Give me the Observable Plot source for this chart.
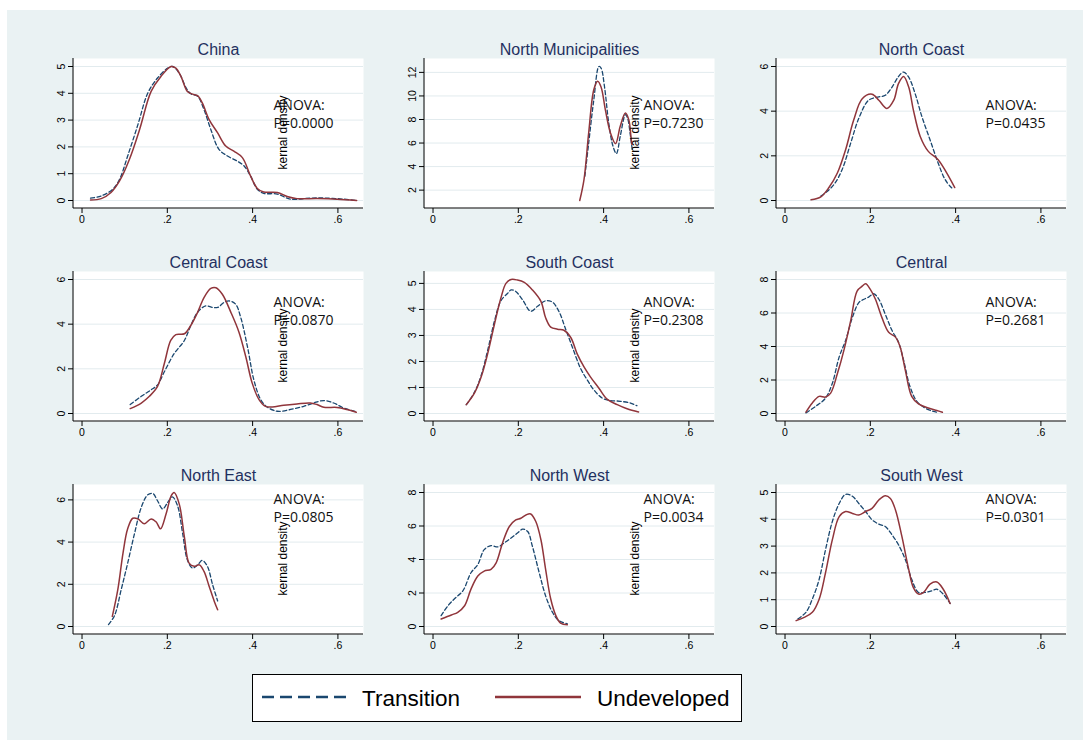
<!DOCTYPE html>
<html><head><meta charset="utf-8">
<script src="https://cdn.jsdelivr.net/npm/d3@7"></script>
<script src="https://cdn.jsdelivr.net/npm/@observablehq/plot@0.6"></script>
<style>
html,body{margin:0;padding:0;background:#fff;width:1083px;height:740px;overflow:hidden;font-family:"Liberation Sans",Arial,sans-serif}
#bg{position:absolute;left:7px;top:10px;width:1076px;height:730px;background:#EAF2F3}
.panel{position:absolute}
#legend{position:absolute;left:252px;top:674px;width:488px;height:46px;background:#fff;border:1px solid #000}
</style></head><body>
<div id="bg"></div>
<div id="charts"></div>
<div id="legend"></div>
<script>
// ---------- DATA ----------
const regions = ["China", "North Municipalities", "North Coast", "Central Coast", "South Coast", "Central", "North East", "North West", "South West"];
const anovaP = ["0.0000", "0.7230", "0.0435", "0.0870", "0.2308", "0.2681", "0.0805", "0.0034", "0.0301"];
const seriesNames = ["Transition", "Undeveloped"];
const xTicks = [0, 0.2, 0.4, 0.6];
const yTicks = [[0,1,2,3,4,5],[2,4,6,8,10,12],[0,2,4,6],[0,2,4,6],[0,1,2,3,4,5],[0,2,4,6,8],[0,2,4,6],[0,2,4,6,8],[0,1,2,3,4,5]];

const chinaTransition = [[0.02,0.09],[0.045,0.17],[0.072,0.42],[0.088,0.79],[0.107,1.66],[0.131,2.83],[0.154,4.0],[0.177,4.57],[0.201,4.94],[0.212,5.0],[0.228,4.75],[0.244,4.2],[0.255,3.98],[0.271,3.89],[0.286,3.39],[0.302,2.65],[0.321,1.91],[0.341,1.66],[0.364,1.47],[0.38,1.29],[0.395,0.92],[0.411,0.42],[0.426,0.27],[0.458,0.24],[0.489,0.05],[0.535,0.09],[0.574,0.09],[0.613,0.05],[0.644,0.0]];
const chinaUndeveloped = [[0.02,0.02],[0.045,0.07],[0.068,0.3],[0.088,0.73],[0.111,1.53],[0.135,2.65],[0.162,4.07],[0.185,4.63],[0.209,5.0],[0.22,4.94],[0.232,4.63],[0.247,4.07],[0.259,3.97],[0.271,3.91],[0.282,3.64],[0.298,3.02],[0.318,2.52],[0.337,2.03],[0.356,1.84],[0.376,1.6],[0.395,0.92],[0.411,0.45],[0.426,0.32],[0.458,0.30],[0.481,0.15],[0.504,0.07],[0.551,0.07],[0.598,0.05],[0.644,0.0]];

const northMuniTransition = [[0.356,3.19],[0.365,6.0],[0.377,9.68],[0.389,12.5],[0.394,12.37],[0.402,10.8],[0.412,7.7],[0.422,5.73],[0.43,5.1],[0.439,6.58],[0.451,8.41],[0.456,8.13],[0.463,6.58],[0.467,5.45]];
const northMuniUndeveloped = [[0.344,1.12],[0.354,2.9],[0.365,6.86],[0.377,10.53],[0.386,11.24],[0.394,10.76],[0.404,8.84],[0.416,6.86],[0.428,5.95],[0.439,7.42],[0.451,8.55],[0.459,7.99],[0.464,6.58],[0.466,5.9]];

const northCoastTransition = [[0.084,0.2],[0.095,0.35],[0.115,0.72],[0.134,1.39],[0.154,2.57],[0.173,3.68],[0.196,4.49],[0.22,4.64],[0.235,4.71],[0.251,5.08],[0.266,5.55],[0.278,5.75],[0.29,5.52],[0.305,4.79],[0.321,3.75],[0.34,2.72],[0.359,1.68],[0.375,0.95],[0.39,0.58],[0.394,0.53]];
const northCoastUndeveloped = [[0.061,0.03],[0.084,0.16],[0.103,0.58],[0.123,1.24],[0.142,2.27],[0.161,3.6],[0.181,4.56],[0.204,4.76],[0.22,4.49],[0.239,4.12],[0.255,4.49],[0.266,5.23],[0.278,5.55],[0.29,5.08],[0.301,4.05],[0.317,2.87],[0.336,2.2],[0.359,1.83],[0.379,1.24],[0.398,0.58]];

const centralCoastTransition = [[0.113,0.4],[0.139,0.77],[0.162,1.06],[0.177,1.28],[0.193,1.87],[0.216,2.68],[0.24,3.27],[0.255,3.94],[0.271,4.53],[0.29,4.82],[0.306,4.75],[0.318,4.75],[0.333,4.97],[0.345,5.04],[0.36,4.9],[0.372,4.31],[0.388,2.98],[0.403,1.5],[0.419,0.62],[0.434,0.29],[0.458,0.1],[0.489,0.18],[0.52,0.32],[0.543,0.47],[0.567,0.58],[0.59,0.47],[0.613,0.25],[0.64,0.09]];
const centralCoastUndeveloped = [[0.113,0.22],[0.139,0.47],[0.158,0.77],[0.177,1.21],[0.193,2.24],[0.208,3.27],[0.22,3.53],[0.24,3.57],[0.255,3.94],[0.271,4.53],[0.286,5.19],[0.302,5.6],[0.314,5.63],[0.329,5.34],[0.349,4.53],[0.368,3.64],[0.384,2.54],[0.399,1.36],[0.415,0.62],[0.43,0.32],[0.446,0.29],[0.473,0.37],[0.504,0.43],[0.535,0.47],[0.551,0.4],[0.567,0.28],[0.598,0.27],[0.621,0.18],[0.643,0.06]];

const southCoastTransition = [[0.078,0.34],[0.097,0.81],[0.113,1.47],[0.128,2.42],[0.144,3.55],[0.159,4.33],[0.175,4.62],[0.183,4.75],[0.194,4.69],[0.21,4.37],[0.229,3.93],[0.245,4.12],[0.264,4.33],[0.28,4.28],[0.295,3.93],[0.311,3.24],[0.327,2.54],[0.346,1.73],[0.362,1.28],[0.377,0.91],[0.397,0.59],[0.416,0.5],[0.439,0.47],[0.463,0.4],[0.478,0.3]];
const southCoastUndeveloped = [[0.078,0.34],[0.097,0.78],[0.113,1.41],[0.128,2.29],[0.144,3.43],[0.159,4.43],[0.171,5.0],[0.183,5.15],[0.198,5.13],[0.214,5.04],[0.233,4.75],[0.253,4.31],[0.264,3.68],[0.276,3.32],[0.292,3.24],[0.307,3.2],[0.323,2.92],[0.338,2.29],[0.354,1.79],[0.369,1.41],[0.389,0.97],[0.408,0.55],[0.432,0.34],[0.455,0.18],[0.482,0.06]];

const centralTransition = [[0.049,0.04],[0.072,0.43],[0.095,0.92],[0.111,1.81],[0.127,3.38],[0.142,4.36],[0.158,5.74],[0.173,6.62],[0.185,6.82],[0.196,6.95],[0.208,7.15],[0.22,6.82],[0.235,5.93],[0.251,4.95],[0.266,4.26],[0.278,3.18],[0.293,1.61],[0.309,0.73],[0.328,0.33],[0.348,0.12],[0.359,0.06]];
const centralUndeveloped = [[0.049,0.08],[0.064,0.63],[0.08,1.02],[0.095,0.98],[0.107,1.22],[0.123,2.4],[0.138,3.77],[0.154,5.54],[0.169,7.31],[0.181,7.6],[0.189,7.74],[0.2,7.41],[0.212,6.82],[0.227,5.74],[0.243,4.85],[0.259,4.56],[0.27,3.97],[0.282,2.59],[0.297,1.02],[0.313,0.57],[0.336,0.33],[0.356,0.18],[0.369,0.08]];

const northEastTransition = [[0.062,0.09],[0.076,0.51],[0.092,1.76],[0.107,3.0],[0.123,4.4],[0.139,5.65],[0.154,6.24],[0.166,6.3],[0.177,5.96],[0.189,5.57],[0.201,5.88],[0.212,6.14],[0.224,5.72],[0.236,4.4],[0.247,3.16],[0.259,2.77],[0.271,2.92],[0.282,3.13],[0.294,2.85],[0.306,1.99],[0.318,1.21]];
const northEastUndeveloped = [[0.071,0.48],[0.084,1.76],[0.096,3.47],[0.107,4.63],[0.119,5.13],[0.131,5.1],[0.146,4.87],[0.162,5.1],[0.174,4.95],[0.184,4.63],[0.197,5.33],[0.209,6.19],[0.216,6.35],[0.228,5.8],[0.24,4.25],[0.251,3.0],[0.263,2.85],[0.275,2.92],[0.286,2.61],[0.298,1.91],[0.31,1.2],[0.318,0.79]];

const northWestTransition = [[0.019,0.65],[0.035,1.24],[0.051,1.67],[0.07,2.13],[0.089,3.21],[0.105,3.7],[0.12,4.59],[0.136,4.83],[0.152,4.75],[0.167,4.99],[0.183,5.28],[0.198,5.58],[0.21,5.81],[0.222,5.67],[0.233,4.79],[0.249,3.21],[0.264,1.83],[0.28,0.85],[0.295,0.35],[0.315,0.16]];
const northWestUndeveloped = [[0.019,0.45],[0.043,0.69],[0.058,0.85],[0.074,1.24],[0.089,2.23],[0.105,3.01],[0.12,3.31],[0.136,3.41],[0.148,3.8],[0.163,4.99],[0.179,5.97],[0.194,6.36],[0.206,6.46],[0.218,6.66],[0.229,6.72],[0.241,6.27],[0.253,5.18],[0.264,3.41],[0.276,1.64],[0.288,0.65],[0.299,0.2],[0.315,0.1]];

const southWestTransition = [[0.03,0.28],[0.049,0.53],[0.064,1.02],[0.08,1.76],[0.095,2.87],[0.111,3.92],[0.127,4.59],[0.142,4.93],[0.158,4.86],[0.173,4.59],[0.189,4.29],[0.204,3.98],[0.22,3.82],[0.235,3.73],[0.251,3.42],[0.266,3.05],[0.282,2.5],[0.297,1.76],[0.313,1.27],[0.328,1.27],[0.344,1.33],[0.356,1.39],[0.371,1.21],[0.387,0.86]];
const southWestUndeveloped = [[0.026,0.22],[0.045,0.34],[0.064,0.53],[0.08,1.02],[0.095,2.01],[0.111,3.24],[0.127,4.1],[0.142,4.29],[0.158,4.22],[0.173,4.16],[0.189,4.29],[0.204,4.41],[0.22,4.72],[0.235,4.88],[0.247,4.78],[0.259,4.35],[0.274,3.36],[0.29,2.13],[0.301,1.45],[0.313,1.21],[0.325,1.27],[0.34,1.58],[0.356,1.66],[0.371,1.39],[0.387,0.86]];

const transitionCurves = [chinaTransition, northMuniTransition, northCoastTransition, centralCoastTransition, southCoastTransition, centralTransition, northEastTransition, northWestTransition, southWestTransition];
const undevelopedCurves = [chinaUndeveloped, northMuniUndeveloped, northCoastUndeveloped, centralCoastUndeveloped, southCoastUndeveloped, centralUndeveloped, northEastUndeveloped, northWestUndeveloped, southWestUndeveloped];

// ---------- LAYOUT / STYLE ----------
const colors = {Transition: "#1a476f", Undeveloped: "#90353b"};
const font = "'Liberation Sans', Arial, sans-serif";
const PW = 290, PH = 150;
const M = {left: 40, right: 6, top: 26, bottom: 24};
const colLayout = [{plotLeft: 73, anovaDx: 200, kdDx: 210}, {plotLeft: 424, anovaDx: 219, kdDx: 211}, {plotLeft: 776, anovaDx: 209, kdDx: null}];
const rowLayout = [{plotTop: 58, anovaDy: 47}, {plotTop: 271, anovaDy: 31}, {plotTop: 484, anovaDy: 15}];
const xDomain = [-0.02, 0.66];
const fmt = d => d === 0 ? "0" : String(+d.toFixed(2)).replace(/^0\./, ".");

function panel(i) {
  const col = colLayout[i % 3], row = rowLayout[Math.floor(i / 3)];
  const tr = transitionCurves[i], un = undevelopedCurves[i];
  const yDomain = d3.extent([...tr, ...un].map(d => d[1]).concat(yTicks[i]));
  const axisLines = (index, scales, values, dims) => {
    const g = d3.create("svg:g").attr("stroke", "#000").attr("stroke-width", 1);
    const x0 = dims.marginLeft, x1 = dims.width - dims.marginRight;
    const y0 = dims.marginTop, y1 = dims.height - dims.marginBottom;
    g.append("line").attr("x1", x0).attr("x2", x0).attr("y1", y0).attr("y2", y1);
    g.append("line").attr("x1", x0).attr("x2", x1).attr("y1", y1).attr("y2", y1);
    return g.node();
  };
  const marks = [
    Plot.frame({fill: "white", stroke: "none"}),
    Plot.ruleY(yTicks[i], {stroke: "#e2ebee", strokeWidth: 1}),
    axisLines,
    Plot.axisX({ticks: xTicks, tickFormat: fmt, tickSize: 5, tickPadding: 2, fontSize: 10.5, label: null}),
    Plot.axisY({ticks: yTicks[i], tickFormat: d => String(d), tickSize: 5, tickPadding: 4, tickRotate: -90, fontSize: 10.5, label: null}),
    Plot.line(tr, {x: d => d[0], y: d => d[1], stroke: colors.Transition, strokeWidth: 1.3, strokeDasharray: "4,2.5", curve: "catmull-rom"}),
    Plot.line(un, {x: d => d[0], y: d => d[1], stroke: colors.Undeveloped, strokeWidth: 1.5, curve: "catmull-rom"}),
    Plot.text([regions[i]], {frameAnchor: "top", dy: -9, lineAnchor: "middle", fontSize: 16, fill: "#1f3060"}),
    Plot.text(["ANOVA:"], {frameAnchor: "top-left", dx: col.anovaDx, dy: row.anovaDy, textAnchor: "start", lineAnchor: "middle", fontSize: 14, fontFamily: "'Open Sans', sans-serif", fill: "#111"}),
    Plot.text(["P=" + anovaP[i]], {frameAnchor: "top-left", dx: col.anovaDx, dy: row.anovaDy + 18, textAnchor: "start", lineAnchor: "middle", fontSize: 14, fontFamily: "'Open Sans', sans-serif", fill: "#111"})
  ];
  if (col.kdDx != null) {
    marks.push(Plot.text(["kernal density"], {frameAnchor: "top-left", dx: col.kdDx, dy: 74, rotate: -90, textAnchor: "middle", lineAnchor: "middle", fontSize: 12, fill: "#000"}));
  }
  const chart = Plot.plot({
    width: M.left + PW + M.right, height: M.top + PH + M.bottom,
    marginLeft: M.left, marginRight: M.right, marginTop: M.top, marginBottom: M.bottom,
    x: {domain: xDomain},
    y: {domain: yDomain, insetTop: 8, insetBottom: 8},
    style: {background: "transparent", color: "#000", fontFamily: font, overflow: "visible"},
    marks
  });
  const wrap = document.createElement("div");
  wrap.className = "panel";
  wrap.style.left = (col.plotLeft - M.left) + "px";
  wrap.style.top = (row.plotTop - M.top) + "px";
  wrap.appendChild(chart);
  document.getElementById("charts").appendChild(wrap);
}
regions.forEach((_, i) => panel(i));

// ---------- LEGEND ----------
const lg = d3.select("#legend").append("svg").attr("width", 488).attr("height", 46).style("display", "block");
const legendItems = [{name: seriesNames[0], x: 9, dash: "12,6"}, {name: seriesNames[1], x: 242, dash: null}];
legendItems.forEach(it => {
  lg.append("line").attr("x1", it.x).attr("x2", it.x + 86).attr("y1", 22).attr("y2", 22)
    .attr("stroke", colors[it.name]).attr("stroke-width", 2.4).attr("stroke-dasharray", it.dash);
  lg.append("text").attr("x", it.x + (it.dash ? 100 : 102)).attr("y", 23).attr("dy", "0.35em")
    .attr("font-family", font).attr("font-size", 22.5).attr("fill", "#000").text(it.name);
});
</script>
</body></html>
